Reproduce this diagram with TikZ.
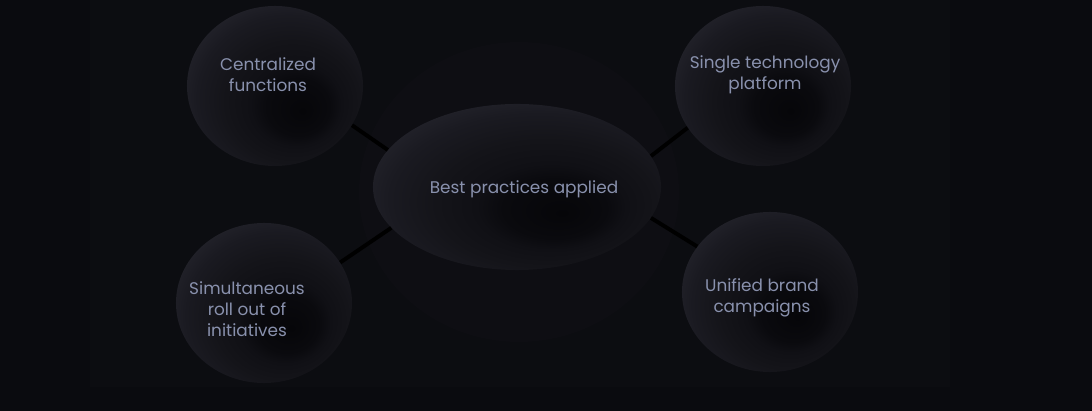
\documentclass[tikz,border=0pt]{standalone}
\usepackage{fontspec}
\setmainfont{Poppins}
\usepackage{tikz}
\usetikzlibrary{shapes.geometric}
\definecolor{bgouter}{HTML}{0A0B0F}
\definecolor{bginner}{HTML}{0C0D11}
\definecolor{bgglow}{HTML}{0E0E13}
\definecolor{orbtxt}{HTML}{8991AD}
\definecolor{orbA}{HTML}{060609}
\definecolor{orbB}{HTML}{0A0A0E}
\definecolor{orbC}{HTML}{101015}
\definecolor{orbD}{HTML}{141419}
\definecolor{orbE}{HTML}{1A1A21}
\definecolor{orbF}{HTML}{24242C}
\definecolor{orbG}{HTML}{2E2E37}
\pgfdeclareradialshading{orbshade}{\pgfpoint{8bp}{-8bp}}{color(0bp)=(orbA);
color(9bp)=(orbB); color(13bp)=(orbC); color(19bp)=(orbD);
color(26bp)=(orbE); color(32bp)=(orbF); color(36bp)=(orbG); color(50bp)=(orbG)}
\tikzstyle{orb} = [ellipse, inner sep=0pt,
minimum width=4.4cm,
minimum height=4cm,
shading=orbshade]
\tikzstyle{hub} = [orb,
minimum width=7.2cm,
minimum height=4.15cm]
\tikzstyle{orbtext} = [text=orbtxt, align=center, font=\fontsize{12}{15}\selectfont]
\tikzstyle{link} = [line width=2.8pt, black]

\begin{document}
\begin{tikzpicture}[x=0.025cm, y=-0.025cm]
				% background
				\fill[bgouter] (0,0) rectangle (1092,411);
				\fill[bginner] (90,0) rectangle (950,387);
				\fill[bgglow] (519,192) ellipse (160 and 150);
				\useasboundingbox (0,0) rectangle (1092,411);

				\node[hub] (bp) at (517,187) {};
				\node[orb] (cf) at (275,86) {};
				\node[orb] (st) at (763,86) {};
				\node[orb] (sr) at (264,303) {};
				\node[orb] (ub) at (770,292) {};

				\draw[link] (cf.-27.5) -- (bp.164);
				\draw[link] (st.-151) -- (bp.13.5);
				\draw[link] (sr.28) -- (bp.-162);
				\draw[link] (ub.148) -- (bp.-13);

				\node[orbtext] (bp-t) at (524,189) {Best practices applied};
				\node[orbtext] (cf-t) at (268,75) {Centralized\\functions};
				\node[orbtext] (st-t) at (765,75) {Single technology\\platform};
				\node[orbtext] (sr-t) at (247,309) {Simultaneous\\roll out of\\initiatives};
				\node[orbtext] (ub-t) at (762,298) {Unified brand\\campaigns};
			\end{tikzpicture}
\end{document}
